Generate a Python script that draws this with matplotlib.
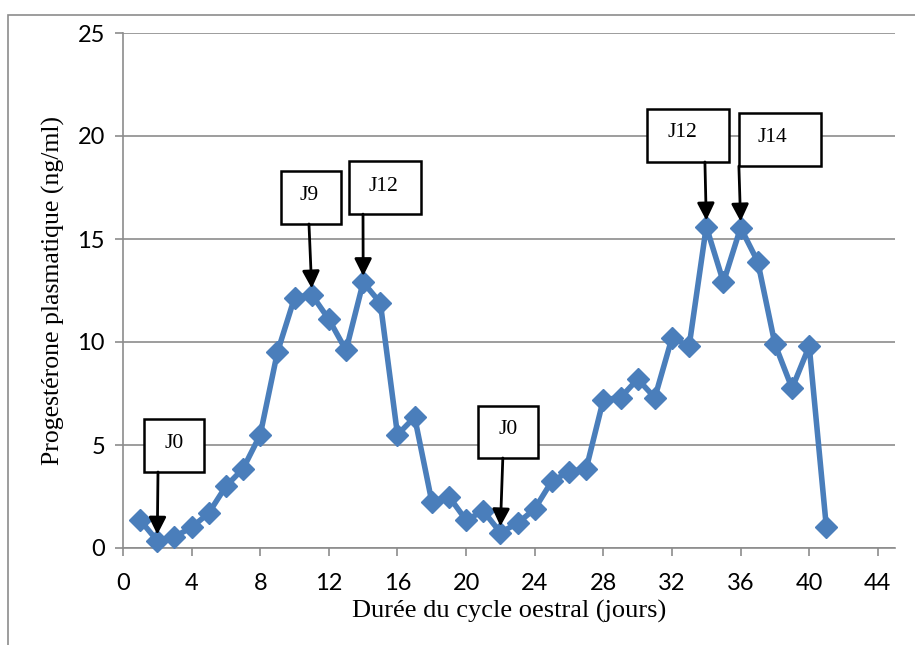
import matplotlib
matplotlib.use("Agg")
import matplotlib.pyplot as plt
from matplotlib.patches import Rectangle

# jours du cycle et progestérone plasmatique (ng/ml)
days = list(range(1, 42))
progesterone = [1.35, 0.35, 0.55, 1.0, 1.7, 3.0, 3.85, 5.5, 9.5, 12.15,
                12.3, 11.1, 9.6, 12.9, 11.9, 5.5, 6.35, 2.25, 2.5, 1.35,
                1.8, 0.75, 1.2, 1.9, 3.25, 3.7, 3.85, 7.2, 7.3, 8.2,
                7.3, 10.2, 9.8, 15.6, 12.9, 15.55, 13.9, 9.9, 7.75, 9.8,
                1.0]

x_ticks = list(range(0, 45, 4))
y_ticks = [0, 5, 10, 15, 20, 25]

# étiquettes : (texte, jour pointé, coin bas-gauche boîte, largeur, hauteur, position texte)
labels = [
    ("J0", 2, (1.22, 3.69), 3.5, 2.57, (2.97, 5.05)),
    ("J9", 11, (9.21, 15.73), 3.49, 2.57, (10.84, 17.09)),
    ("J12", 14, (13.17, 16.21), 4.2, 2.58, (15.15, 17.57)),
    ("J0", 22, (20.69, 4.37), 3.49, 2.52, (22.44, 5.73)),
    ("J12", 34, (30.54, 18.74), 4.77, 2.57, (32.58, 20.15)),
    ("J14", 36, (35.90, 18.54), 4.78, 2.58, (37.88, 19.95)),
]
arrow_x = {2: 2.04, 11: 10.84, 14: 13.99, 22: 22.14, 34: 33.92, 36: 35.90}

fig = plt.figure(figsize=(9.15, 6.45), dpi=100)
fig.patches.append(Rectangle((8 / 915, -0.1), 1.2, 1 - 15 / 645 + 0.1,
                             transform=fig.transFigure, fill=False,
                             edgecolor="#8c8c8c", linewidth=1.2))
ax = fig.add_axes([123 / 915, 1 - 548 / 645, (895 - 123) / 915, (548 - 33) / 645])

grey = "#8c8c8c"
ax.set_xlim(0, 45)
ax.set_ylim(0, 25)
ax.set_xticks(x_ticks)
ax.set_yticks(y_ticks)
ax.grid(axis="y", color=grey, linewidth=1.2)
ax.set_axisbelow(True)
for s in ["top", "right"]:
    ax.spines[s].set_visible(False)
for s in ["left", "bottom"]:
    ax.spines[s].set_color(grey)
    ax.spines[s].set_linewidth(1.2)
ax.tick_params(axis="both", colors=grey, length=6, width=1.2, labelcolor="black",
               labelsize=17)
ax.tick_params(axis="x", pad=12)
ax.tick_params(axis="y", pad=7)
for lab in ax.get_xticklabels() + ax.get_yticklabels():
    lab.set_family("Lato")

ax.plot(days, progesterone, color="#4a7ebb", linewidth=4, marker="D",
        markersize=11, zorder=3, clip_on=False)

ax.set_xlabel("Durée du cycle oestral (jours)", family="Liberation Serif",
              fontsize=19, labelpad=4)
ax.set_ylabel("Progestérone plasmatique (ng/ml)", family="Liberation Serif",
              fontsize=18.5, labelpad=9)

for text, day, (bx, by), w, h, (tx, ty) in labels:
    ax.add_patch(Rectangle((bx, by), w, h, facecolor="white", edgecolor="black",
                           linewidth=1.8, zorder=4, clip_on=False))
    ax.text(tx, ty, text, family="Liberation Serif", fontsize=15.5,
            ha="center", va="center", zorder=5)
    tip_y = progesterone[day - 1] + 0.3
    ax.annotate("", xy=(day, tip_y), xytext=(arrow_x[day], by),
                arrowprops=dict(arrowstyle="-|>", color="black", lw=2,
                                mutation_scale=26, shrinkA=0, shrinkB=0),
                zorder=5)

fig.savefig("out.png", dpi=100)
